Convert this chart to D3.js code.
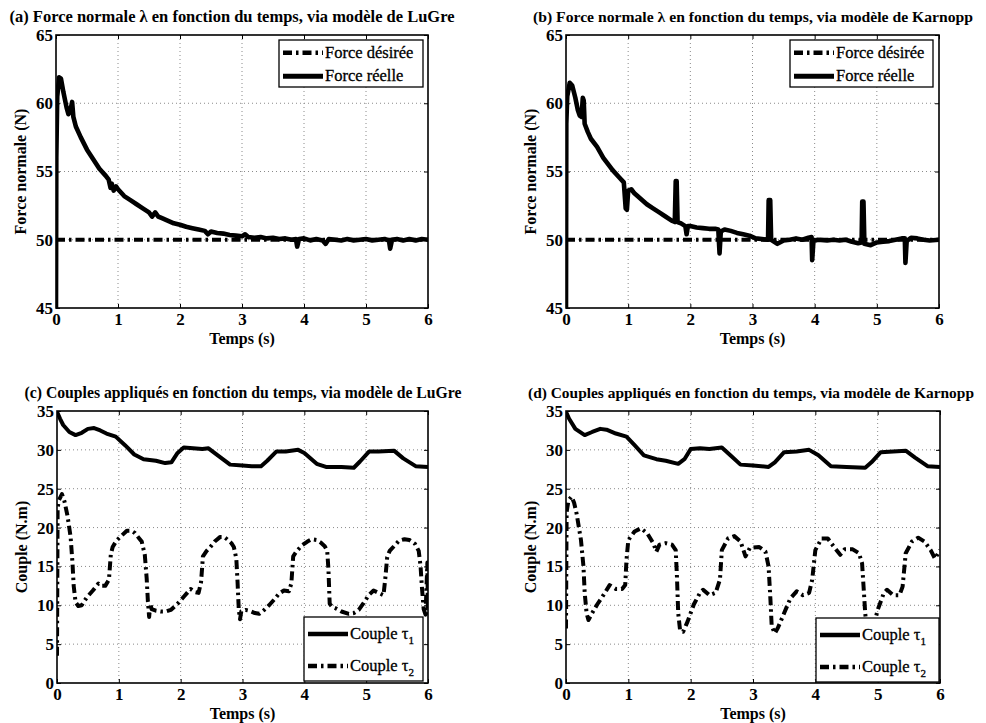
<!DOCTYPE html>
<html lang="fr">
<head>
<meta charset="UTF-8">
<title>Force normale et couples appliqués</title>
<script src="https://cdnjs.cloudflare.com/ajax/libs/d3/7.8.5/d3.min.js"></script>
<style>
    body { margin: 0; background: #fff; }
    svg text { font-family: "Liberation Serif", "Times New Roman", serif; fill: #000; }
</style>
</head>
<body>
<svg id="fig" width="986" height="723"></svg>
<script>
    // ---- ticks ----
    const timeTicks = [0, 1, 2, 3, 4, 5, 6];
    const forceTicks = [45, 50, 55, 60, 65];
    const coupleTicks = [0, 5, 10, 15, 20, 25, 30, 35];

    // ---- (a) / (b) normal force, [t (s), N] ----
    const forceDesired = [[0, 50], [6, 50]];

    const forceLuGre = [
        [0, 45], [0.005, 56], [0.02, 60.5], [0.05, 61.9], [0.08, 61.8], [0.12, 60.8], [0.17, 59.7],
        [0.2, 59.2], [0.23, 59.4], [0.26, 60.1], [0.28, 59.0], [0.32, 58.3], [0.4, 57.5], [0.5, 56.6],
        [0.6, 55.9], [0.7, 55.2], [0.8, 54.7], [0.85, 54.4], [0.88, 53.8], [0.9, 54.1], [0.93, 53.6],
        [0.97, 53.9], [1.0, 53.7], [1.1, 53.2], [1.2, 52.9], [1.3, 52.6], [1.4, 52.3], [1.5, 52.0],
        [1.55, 51.7], [1.6, 52.0], [1.65, 51.7], [1.7, 51.6], [1.8, 51.4], [1.9, 51.2], [2.0, 51.1],
        [2.1, 50.95], [2.2, 50.85], [2.3, 50.75], [2.4, 50.65], [2.45, 50.4], [2.5, 50.6], [2.6, 50.5],
        [2.7, 50.45], [2.8, 50.35], [2.9, 50.3], [3.0, 50.25], [3.05, 50.4], [3.1, 50.2], [3.2, 50.15],
        [3.3, 50.2], [3.4, 50.1], [3.5, 50.15], [3.6, 50.05], [3.7, 50.1], [3.8, 50.0], [3.87, 50.05],
        [3.89, 49.5], [3.92, 50.05], [4.0, 50.1], [4.1, 49.95], [4.2, 50.05], [4.3, 49.95], [4.35, 49.7],
        [4.4, 50.05], [4.5, 50.0], [4.6, 49.95], [4.7, 50.05], [4.8, 49.95], [4.9, 50.0], [5.0, 50.05],
        [5.1, 49.95], [5.2, 50.0], [5.3, 50.05], [5.37, 49.95], [5.39, 49.35], [5.42, 50.0], [5.5, 50.05],
        [5.6, 49.95], [5.7, 50.05], [5.8, 49.95], [5.9, 50.05], [6, 50.0]
    ];

    const forceKarnopp = [
        [0, 45], [0.005, 58.5], [0.02, 60.5], [0.06, 61.5], [0.1, 61.3], [0.15, 60.4], [0.19, 59.5],
        [0.22, 59.1], [0.25, 59.0], [0.27, 60.4], [0.285, 60.2], [0.3, 58.5], [0.35, 57.9], [0.4, 57.4],
        [0.5, 56.8], [0.6, 56.0], [0.75, 55.1], [0.85, 54.6], [0.93, 54.2], [0.96, 52.3], [0.98, 52.2],
        [1.0, 53.6], [1.05, 53.7], [1.1, 53.4], [1.2, 53.0], [1.3, 52.6], [1.4, 52.3], [1.5, 52.0],
        [1.6, 51.7], [1.7, 51.4], [1.75, 51.3], [1.765, 54.3], [1.78, 54.3], [1.795, 51.3], [1.85, 51.2],
        [1.92, 51.0], [1.94, 50.4], [1.96, 51.0], [2.0, 51.0], [2.1, 50.9], [2.2, 50.85], [2.3, 50.8],
        [2.4, 50.8], [2.45, 50.75], [2.47, 49.0], [2.49, 50.6], [2.55, 50.75], [2.65, 50.65], [2.75, 50.5],
        [2.85, 50.4], [2.95, 50.3], [3.05, 50.1], [3.15, 50.05], [3.25, 50.0], [3.26, 52.9], [3.285, 52.9],
        [3.3, 50.0], [3.4, 49.7], [3.5, 49.95], [3.6, 50.0], [3.7, 50.1], [3.8, 50.0], [3.9, 50.15],
        [3.95, 50.2], [3.96, 48.5], [3.98, 49.9], [4.05, 50.0], [4.2, 49.95], [4.3, 50.0], [4.4, 49.95],
        [4.5, 50.0], [4.6, 49.85], [4.7, 49.75], [4.755, 49.8], [4.765, 52.8], [4.785, 52.8], [4.8, 49.7],
        [4.9, 49.6], [5.0, 49.8], [5.1, 49.85], [5.2, 49.9], [5.3, 50.0], [5.4, 50.1], [5.45, 50.1],
        [5.46, 48.3], [5.48, 49.9], [5.55, 50.15], [5.65, 50.1], [5.75, 50.0], [5.85, 49.95], [6, 50.0]
    ];

    // ---- (c) / (d) torques, [t (s), N.m] ----
    const tau1LuGre = [
        [0, 34.9], [0.05, 34.0], [0.1, 33.2], [0.2, 32.3], [0.3, 31.9], [0.4, 32.2], [0.5, 32.7],
        [0.6, 32.8], [0.7, 32.5], [0.8, 32.1], [0.95, 31.7], [1.1, 30.6], [1.25, 29.4], [1.4, 28.8],
        [1.6, 28.6], [1.75, 28.3], [1.85, 28.4], [1.95, 29.6], [2.05, 30.3], [2.2, 30.2], [2.35, 30.1],
        [2.45, 30.2], [2.6, 29.3], [2.8, 28.1], [3.0, 28.0], [3.15, 27.9], [3.3, 27.9], [3.4, 28.6],
        [3.55, 29.8], [3.7, 29.8], [3.9, 30.0], [4.0, 29.6], [4.2, 28.2], [4.35, 27.8], [4.6, 27.8],
        [4.8, 27.7], [4.9, 28.5], [5.05, 29.8], [5.2, 29.8], [5.45, 29.9], [5.6, 28.9], [5.8, 27.9], [6.0, 27.8]
    ];

    const tau2LuGre = [
        [0, 3.5], [0.01, 22.5], [0.03, 23.5], [0.08, 24.3], [0.12, 23.4], [0.17, 21.5], [0.22, 18.8],
        [0.25, 15.5], [0.27, 12.5], [0.3, 10.4], [0.345, 9.9], [0.4, 10.0], [0.48, 11.0], [0.58, 11.9],
        [0.67, 12.8], [0.72, 12.5], [0.78, 12.5], [0.84, 13.3], [0.87, 16.5], [0.9, 17.5], [0.96, 18.3],
        [1.05, 19.0], [1.13, 19.6], [1.2, 19.6], [1.26, 19.3], [1.33, 18.6], [1.37, 18.2], [1.42, 16.5],
        [1.45, 13.5], [1.47, 10.5], [1.49, 8.5], [1.51, 10.2], [1.53, 9.5], [1.6, 9.3], [1.68, 9.2],
        [1.76, 9.2], [1.84, 9.4], [1.95, 10.2], [2.05, 11.1], [2.16, 12.1], [2.23, 11.7], [2.29, 11.6],
        [2.33, 13.0], [2.36, 16.3], [2.42, 17.0], [2.48, 17.5], [2.55, 18.2], [2.64, 18.8], [2.7, 18.8],
        [2.75, 18.5], [2.82, 18.0], [2.86, 17.5], [2.9, 16.0], [2.92, 13.0], [2.94, 9.4], [2.96, 8.2],
        [2.98, 9.2], [3.05, 9.4], [3.11, 9.3], [3.2, 9.0], [3.27, 8.9], [3.35, 9.4], [3.43, 10.0],
        [3.52, 10.8], [3.59, 11.5], [3.67, 11.9], [3.75, 11.8], [3.79, 12.8], [3.82, 16.3], [3.88, 17.0],
        [3.96, 17.7], [4.05, 18.2], [4.12, 18.5], [4.2, 18.4], [4.26, 18.1], [4.33, 17.6], [4.37, 17.0],
        [4.39, 14.6], [4.41, 10.2], [4.45, 9.8], [4.51, 9.6], [4.6, 9.2], [4.72, 8.9], [4.8, 9.0],
        [4.88, 9.4], [4.96, 10.3], [5.04, 11.3], [5.12, 11.9], [5.2, 11.6], [5.28, 11.3], [5.31, 13.5],
        [5.34, 16.2], [5.38, 17.0], [5.45, 17.6], [5.53, 18.3], [5.62, 18.5], [5.7, 18.4], [5.79, 17.9],
        [5.85, 17.0], [5.88, 15.0], [5.9, 12.5], [5.93, 9.5], [5.96, 8.8], [5.99, 15.5], [6.0, 8.3]
    ];

    const tau1Karnopp = [
        [0, 34.9], [0.05, 34.0], [0.15, 32.7], [0.3, 31.9], [0.42, 32.3], [0.55, 32.7], [0.65, 32.6],
        [0.8, 32.1], [0.97, 31.7], [1.1, 30.6], [1.25, 29.3], [1.45, 28.8], [1.6, 28.6], [1.8, 28.2],
        [1.9, 28.8], [2.0, 30.1], [2.15, 30.2], [2.3, 30.1], [2.5, 30.3], [2.65, 29.2], [2.8, 28.1],
        [3.0, 28.0], [3.25, 27.8], [3.35, 28.4], [3.5, 29.7], [3.7, 29.8], [3.9, 30.0], [4.05, 29.3],
        [4.25, 27.9], [4.5, 27.8], [4.8, 27.7], [4.9, 28.4], [5.05, 29.7], [5.25, 29.8], [5.45, 29.9],
        [5.6, 29.0], [5.8, 27.9], [6.0, 27.8]
    ];

    const tau2Karnopp = [
        [0, 7.0], [0.01, 22.0], [0.04, 23.5], [0.09, 24.0], [0.13, 23.2], [0.17, 21.8], [0.24, 18.4],
        [0.28, 15.0], [0.3, 11.6], [0.33, 9.0], [0.36, 8.1], [0.42, 9.0], [0.5, 10.1], [0.6, 11.3],
        [0.7, 12.6], [0.8, 12.1], [0.9, 12.1], [0.95, 12.6], [0.97, 15.8], [1.0, 18.4], [1.1, 19.5],
        [1.2, 19.9], [1.3, 19.3], [1.4, 18.0], [1.45, 16.9], [1.5, 17.8], [1.6, 18.0], [1.7, 17.8],
        [1.76, 17.1], [1.78, 13.7], [1.8, 9.0], [1.83, 6.8], [1.88, 6.6], [1.95, 7.9], [2.05, 10.1],
        [2.15, 11.6], [2.2, 12.0], [2.3, 11.3], [2.4, 11.6], [2.47, 13.3], [2.5, 17.1], [2.6, 18.6],
        [2.7, 18.9], [2.8, 18.2], [2.88, 16.3], [2.95, 17.4], [3.1, 17.5], [3.2, 16.9], [3.25, 15.0],
        [3.28, 10.7], [3.3, 7.3], [3.35, 6.4], [3.4, 7.1], [3.5, 9.0], [3.6, 10.9], [3.7, 11.8],
        [3.8, 11.3], [3.9, 11.6], [3.95, 13.3], [4.0, 17.1], [4.1, 18.6], [4.2, 18.6], [4.3, 17.5],
        [4.4, 16.5], [4.47, 17.2], [4.6, 17.2], [4.7, 16.7], [4.75, 15.4], [4.78, 11.6], [4.8, 9.0],
        [4.83, 6.5], [4.9, 6.8], [4.95, 7.8], [5.0, 9.4], [5.1, 11.6], [5.15, 12.0], [5.25, 11.3],
        [5.35, 11.3], [5.4, 12.4], [5.45, 16.7], [5.55, 18.2], [5.65, 18.7], [5.75, 18.2], [5.85, 17.1],
        [5.92, 16.0], [6.0, 17.1]
    ];

    const solid = { dash: null, width: 4 };
    const dashDot = { dash: "9,4,2.5,4", width: 4 };

    const panels = [
        {
            id: "a", title: "(a) Force normale \u03bb en fonction du temps, via modèle de LuGre",
            titleX: 232, titleW: 445, titleSize: 16.5,
            left: 56, right: 428, top: 35, bottom: 308, yDomain: [45, 65], yTicks: forceTicks,
            ylabel: "Force normale (N)",
            series: [
                { name: "Force désirée", data: forceDesired, ...dashDot },
                { name: "Force réelle", data: forceLuGre, ...solid, width: 4.6 }
            ],
            legend: { x: 279, y: 40, w: 144, h: 47 }
        },
        {
            id: "b", title: "(b) Force normale \u03bb en fonction du temps, via modèle de Karnopp",
            titleX: 753, titleW: 440, titleSize: 15.6,
            left: 566, right: 939, top: 35, bottom: 308, yDomain: [45, 65], yTicks: forceTicks,
            ylabel: "Force normale (N)",
            series: [
                { name: "Force désirée", data: forceDesired, ...dashDot },
                { name: "Force réelle", data: forceKarnopp, ...solid, width: 4.6 }
            ],
            legend: { x: 790, y: 40, w: 143, h: 47 }
        },
        {
            id: "c", title: "(c) Couples appliqués en fonction du temps, via modèle de LuGre",
            titleX: 243, titleW: 437, titleSize: 15.8,
            left: 57, right: 428, top: 411, bottom: 683, yDomain: [0, 35], yTicks: coupleTicks,
            ylabel: "Couple (N.m)",
            series: [
                { name: "Couple \u03c4", sub: "1", data: tau1LuGre, ...solid },
                { name: "Couple \u03c4", sub: "2", data: tau2LuGre, ...dashDot }
            ],
            legend: { x: 304, y: 617, w: 119, h: 64 }
        },
        {
            id: "d", title: "(d) Couples appliqués en fonction du temps, via modèle de Karnopp",
            titleX: 751, titleW: 446, titleSize: 15.4,
            left: 566, right: 940, top: 411, bottom: 683, yDomain: [0, 35], yTicks: coupleTicks,
            ylabel: "Couple (N.m)",
            series: [
                { name: "Couple \u03c4", sub: "1", data: tau1Karnopp, ...solid },
                { name: "Couple \u03c4", sub: "2", data: tau2Karnopp, ...dashDot }
            ],
            legend: { x: 816, y: 618, w: 123, h: 64 }
        }
    ];

    const svg = d3.select("#fig");
    svg.append("rect").attr("width", 986).attr("height", 723).attr("fill", "#fff");

    function drawPanel(p) {
        const x = d3.scaleLinear().domain([0, 6]).range([p.left, p.right]);
        const y = d3.scaleLinear().domain(p.yDomain).range([p.bottom, p.top]);
        const g = svg.append("g").attr("class", "panel-" + p.id);
        const midX = (p.left + p.right) / 2;
        const midY = (p.top + p.bottom) / 2;

        // dotted grid
        g.append("g").selectAll("line")
            .data(timeTicks.slice(1, -1))
            .join("line")
            .attr("x1", d => x(d)).attr("x2", d => x(d))
            .attr("y1", p.top).attr("y2", p.bottom)
            .attr("stroke", "#8a8a8a").attr("stroke-width", 1).attr("stroke-dasharray", "1,3");
        g.append("g").selectAll("line")
            .data(p.yTicks.slice(1, -1))
            .join("line")
            .attr("x1", p.left).attr("x2", p.right)
            .attr("y1", d => y(d)).attr("y2", d => y(d))
            .attr("stroke", "#8a8a8a").attr("stroke-width", 1).attr("stroke-dasharray", "1,3");

        // curves, clipped to the axes box
        svg.append("clipPath").attr("id", "clip-" + p.id)
            .append("rect")
            .attr("x", p.left).attr("y", p.top)
            .attr("width", p.right - p.left).attr("height", p.bottom - p.top);

        const line = d3.line().x(d => x(d[0])).y(d => y(d[1]));
        p.series.forEach(s => {
            g.append("path")
                .datum(s.data)
                .attr("d", line)
                .attr("fill", "none")
                .attr("stroke", "#000")
                .attr("stroke-width", s.width)
                .attr("stroke-linejoin", "round")
                .attr("stroke-dasharray", s.dash)
                .attr("clip-path", `url(#clip-${p.id})`);
        });

        // axes (ticks pointing inward, like MATLAB)
        const styleAxis = sel => {
            sel.select(".domain").remove();
            sel.attr("font-size", 17).attr("font-weight", "bold");
            sel.selectAll(".tick line").attr("stroke", "#000").attr("stroke-width", 1);
        };
        g.append("g").attr("transform", `translate(0,${p.bottom})`)
            .call(d3.axisBottom(x).tickValues(timeTicks).tickSize(-4).tickPadding(5).tickFormat(d3.format("d")))
            .call(styleAxis);
        g.append("g").attr("transform", `translate(0,${p.top})`)
            .call(d3.axisTop(x).tickValues(timeTicks).tickSize(-4).tickFormat(""))
            .call(styleAxis);
        g.append("g").attr("transform", `translate(${p.left},0)`)
            .call(d3.axisLeft(y).tickValues(p.yTicks).tickSize(-4).tickPadding(3).tickFormat(d3.format("d")))
            .call(styleAxis);
        g.append("g").attr("transform", `translate(${p.right},0)`)
            .call(d3.axisRight(y).tickValues(p.yTicks).tickSize(-4).tickFormat(""))
            .call(styleAxis);

        g.append("rect")
            .attr("x", p.left).attr("y", p.top)
            .attr("width", p.right - p.left).attr("height", p.bottom - p.top)
            .attr("fill", "none").attr("stroke", "#000").attr("stroke-width", 1.6);

        // titles and axis labels
        g.append("text")
            .attr("x", p.titleX).attr("y", p.top - 13)
            .attr("text-anchor", "middle").attr("font-size", p.titleSize).attr("font-weight", "bold")
            .attr("textLength", p.titleW).attr("lengthAdjust", "spacingAndGlyphs")
            .text(p.title);
        g.append("text")
            .attr("x", midX).attr("y", p.bottom + 36)
            .attr("text-anchor", "middle").attr("font-size", 16).attr("font-weight", "bold")
            .text("Temps (s)");
        g.append("text")
            .attr("transform", `translate(${p.left - 30},${midY}) rotate(-90)`)
            .attr("text-anchor", "middle").attr("font-size", 16).attr("font-weight", "bold")
            .text(p.ylabel);

        // legend
        const L = p.legend;
        const lg = g.append("g").attr("transform", `translate(${L.x},${L.y})`);
        lg.append("rect")
            .attr("width", L.w).attr("height", L.h)
            .attr("fill", "#fff").attr("stroke", "#000").attr("stroke-width", 1.3);
        const rowH = L.h / 2;
        p.series.forEach((s, i) => {
            const cy = rowH * (i + 0.5) + 1;
            lg.append("line")
                .attr("x1", 4).attr("x2", 44)
                .attr("y1", cy).attr("y2", cy)
                .attr("stroke", "#000").attr("stroke-width", s.width + 0.5)
                .attr("stroke-dasharray", s.dash);
            const t = lg.append("text")
                .attr("x", 46).attr("y", cy + 5)
                .attr("font-size", 16.5)
                .attr("stroke", "#000").attr("stroke-width", 0.3)
                .text(s.name);
            if (s.sub) {
                t.append("tspan").attr("dy", 5).attr("font-size", 11).text(s.sub);
            }
        });
    }

    panels.forEach(drawPanel);
</script>
</body>
</html>
